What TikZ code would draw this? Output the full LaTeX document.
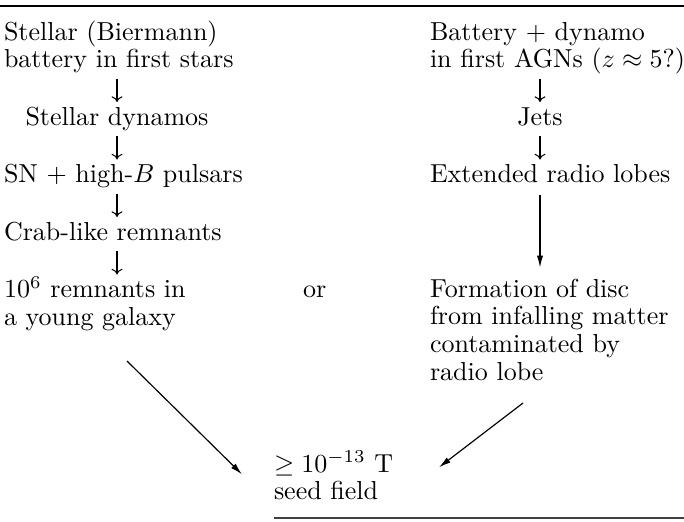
\documentclass[tikz,border=0pt]{standalone}
\usetikzlibrary{arrows.meta,calc}
\begin{document}
\begin{tikzpicture}[x=0.3846pt,y=-0.3846pt,
  txt/.style={inner sep=0pt, outer sep=0pt, align=left, font=\fontsize{10}{10.58}\selectfont},
  cmarr/.style={-{Computer Modern Rightarrow[length=2.2pt,width=4.2pt]}, line width=0.4pt},
  bigarr/.style={-{Latex[length=4.6pt,width=2.4pt]}, line width=0.45pt}]
\useasboundingbox (0,0) rectangle (684,521);
% rules
\draw[line width=0.6pt] (0,6) -- (684,6);
\draw[line width=0.6pt, black!75] (274,518) -- (684,518);
% left column (base anchor = last line)
\node[txt,anchor=base west] (bat) at (4,67.5) {Stellar (Biermann)\\battery in first stars};
\node[txt,anchor=base] (sdy) at (117,125) {Stellar dynamos};
\node[txt,anchor=base west] (sn) at (4,182.5) {SN $+$ high-$B$ pulsars};
\node[txt,anchor=base west] (crab) at (4,240) {Crab-like remnants};
\node[txt,anchor=base west] (rem) at (4,325) {$10^6$ remnants in\\a young galaxy};
\node[txt,anchor=base west] (or) at (303,297.5) {or};
% right column
\node[txt,anchor=base west] (agn) at (430,67.5) {Battery $+$ dynamo\\in first AGNs ($z\approx5$?)};
\node[txt,anchor=base] (jets) at (540,125) {Jets};
\node[txt,anchor=base west] (ext) at (430,182.5) {Extended radio lobes};
\node[txt,anchor=base west] (disc) at (430,380) {Formation of disc\\from infalling matter\\contaminated by\\radio lobe};
% result
\node[txt,anchor=base west] (seed) at (274,499.5) {$\geq 10^{-13}$ T\\seed field};
% short down arrows (left)
\draw[cmarr] ($(sdy.base |- bat.base)+(0,11)$) -- ($(sdy.base)+(0,-23)$);
\draw[cmarr] ($(sdy.base)+(0,11)$) -- ($(sdy.base |- sn.base)+(0,-23)$);
\draw[cmarr] ($(sdy.base |- sn.base)+(0,11)$) -- ($(sdy.base |- crab.base)+(0,-23)$);
\draw[cmarr] ($(sdy.base |- crab.base)+(0,11)$) -- ($(sdy.base |- crab.base)+(0,34.5)$);
% short down arrows (right)
\draw[cmarr] ($(jets.base |- agn.base)+(0,11)$) -- ($(jets.base)+(0,-23)$);
\draw[cmarr] ($(jets.base)+(0,11)$) -- ($(jets.base |- ext.base)+(0,-23)$);
% long arrow
\draw[bigarr] ($(jets.base |- ext.base)+(0,12)$) -- ($(jets.base |- disc.base)+(0,-112.5)$);
% diagonal arrows
\draw[bigarr] ([shift={(123,36)}]rem.base west) -- ([shift={(-32,-1)}]seed.west);
\draw[bigarr] ([shift={(93,23)}]disc.base west) -- ([shift={(165,-8)}]seed.west);
\end{tikzpicture}
\end{document}
